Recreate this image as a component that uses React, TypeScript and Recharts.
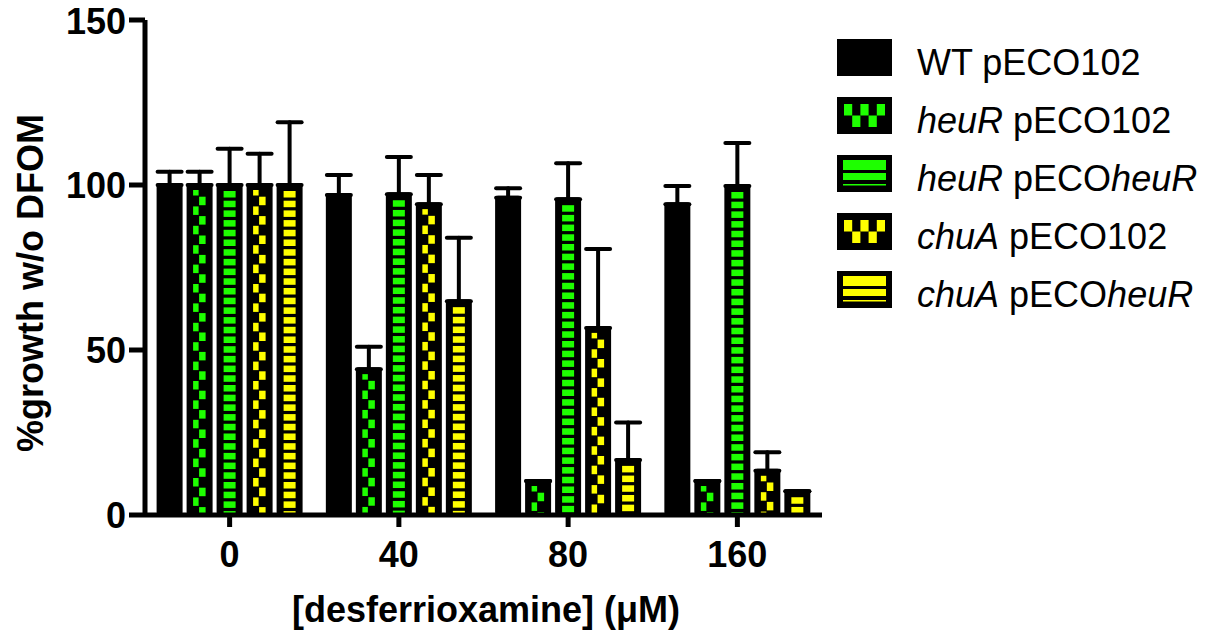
import React from 'react';
import { BarChart, Bar, XAxis, YAxis, ErrorBar, Legend } from 'recharts';

const doses = ['0', '40', '80', '160'];
const wtPECO102 = [100, 97, 96.1, 94.2];
const wtPECO102Err = [4, 6, 2.9, 5.5];
const heuRPECO102 = [100, 44.2, 10.3, 10.3];
const heuRPECO102Err = [4, 6.8, 0, 0];
const heuRPECOheuR = [100, 97.2, 95.7, 99.7];
const heuRPECOheuRErr = [11, 11.3, 10.9, 13];
const chuAPECO102 = [100, 94.2, 56.7, 13.4];
const chuAPECO102Err = [9.5, 8.8, 23.9, 5.6];
const chuAPECOheuR = [100, 64.8, 16.7, 7.2];
const chuAPECOheuRErr = [19, 19.2, 11.3, 0];
const yTicks = [0, 50, 100, 150];

const FONT = "'Liberation Sans', Arial, Helvetica, sans-serif";
const GREEN = '#1EFF00';
const YELLOW = '#FFFF00';

type Part = { t: string; i?: boolean };

const series = [
  { key: 'wt', name: 'WT pECO102', kind: 'solid', color: '#000', label: [{ t: 'WT pECO102' }] as Part[] },
  { key: 'heuR102', name: 'heuR pECO102', kind: 'zigzag', color: GREEN, label: [{ t: 'heuR', i: true }, { t: ' pECO102' }] as Part[] },
  { key: 'heuRheuR', name: 'heuR pECOheuR', kind: 'stripes', color: GREEN, label: [{ t: 'heuR', i: true }, { t: ' pECO' }, { t: 'heuR', i: true }] as Part[] },
  { key: 'chuA102', name: 'chuA pECO102', kind: 'zigzag', color: YELLOW, label: [{ t: 'chuA', i: true }, { t: ' pECO102' }] as Part[] },
  { key: 'chuAheuR', name: 'chuA pECOheuR', kind: 'stripes', color: YELLOW, label: [{ t: 'chuA', i: true }, { t: ' pECO' }, { t: 'heuR', i: true }] as Part[] },
];

const rows = doses.map((dose, i) => ({
  dose,
  wt: wtPECO102[i],
  wtErr: [0, wtPECO102Err[i]],
  heuR102: heuRPECO102[i],
  heuR102Err: [0, heuRPECO102Err[i]],
  heuRheuR: heuRPECOheuR[i],
  heuRheuRErr: [0, heuRPECOheuRErr[i]],
  chuA102: chuAPECO102[i],
  chuA102Err: [0, chuAPECO102Err[i]],
  chuAheuR: chuAPECOheuR[i],
  chuAheuRErr: [0, chuAPECOheuRErr[i]],
}));

function PatternBar(props: any) {
  const { x, y, width, height, kind, color } = props;
  if (!height || height <= 0) return null;
  const top = y - 2;
  const bottom = y + height;
  const parts: React.ReactNode[] = [
    <rect key="outer" x={x} y={top} width={width} height={bottom - top} rx={3} fill="#000" />,
  ];
  const innerTop = top + 7;
  if (kind === 'stripes') {
    for (let k = 0; k < 200; k++) {
      const sy = innerTop + 1 + k * 9.7;
      if (sy >= bottom) break;
      parts.push(
        <rect key={k} x={x + 7} y={sy} width={width - 14} height={Math.min(6.5, bottom - sy)} fill={color} />
      );
    }
  } else if (kind === 'zigzag') {
    for (let k = 0; k < 200; k++) {
      const sy0 = innerTop - 3 + k * 9.7;
      if (sy0 >= bottom) break;
      const sy = Math.max(sy0, innerTop);
      const ey = Math.min(sy0 + 8.5, bottom);
      if (ey <= sy) continue;
      const left = k % 2 === 0;
      parts.push(
        <rect key={k} x={left ? x + 6.5 : x + 12.5} y={sy} width={left ? 5.5 : 6.5} height={ey - sy} fill={color} />
      );
    }
  }
  return <g>{parts}</g>;
}

function Swatch({ kind, color, y }: { kind: string; color: string; y: number }) {
  const x = 1;
  const items: React.ReactNode[] = [<rect key="b" x={x} y={y} width={55} height={37} fill="#000" />];
  if (kind === 'zigzag') {
    for (let r = 0; r < 2; r++) {
      for (let c = 0; c < 5; c++) {
        if ((r + c) % 2 === 0) {
          items.push(<rect key={`${r}-${c}`} x={x + 7 + c * 8.2} y={y + 7 + r * 11.5} width={8.2} height={11.5} fill={color} />);
        }
      }
    }
  } else if (kind === 'stripes') {
    items.push(<rect key="s1" x={x + 6} y={y + 5} width={43} height={10} fill={color} />);
    items.push(<rect key="s2" x={x + 6} y={y + 18} width={43} height={7} fill={color} />);
    items.push(<rect key="s3" x={x + 6} y={y + 29} width={43} height={1.5} fill={color} />);
  }
  return <g>{items}</g>;
}

function LegendBlock() {
  return (
    <svg width={389} height={340} style={{ display: 'block' }}>
      {series.map((s, i) => {
        const top = 39 + i * 58;
        return (
          <g key={s.key}>
            <Swatch kind={s.kind} color={s.color} y={top} />
            <text x={81} y={top + 36} fontSize={36} fontFamily={FONT} fill="#000" style={{ whiteSpace: 'pre' }}>
              {s.label.map((p, j) => (
                <tspan key={j} fontStyle={p.i ? 'italic' : 'normal'}>
                  {p.t}
                </tspan>
              ))}
            </text>
          </g>
        );
      })}
    </svg>
  );
}

const tickStyle = { fontSize: 36, fontWeight: 'bold' as const, fill: '#000', fontFamily: FONT };
const axisStroke = { stroke: '#000', strokeWidth: 5 };

export default function App() {
  return (
    <div style={{ position: 'absolute', left: 0, top: 0, width: 1225, height: 642, background: '#fff' }}>
      <BarChart
        width={1225}
        height={642}
        data={rows}
        margin={{ top: 20, right: 403, bottom: 0, left: 0 }}
        barCategoryGap={11.6}
        barGap={4}
      >
        <XAxis
          dataKey="dose"
          height={127}
          tickSize={12}
          tickMargin={14}
          tick={tickStyle}
          axisLine={axisStroke}
          tickLine={axisStroke}
          label={{
            content: () => (
              <text x={486} y={622} textAnchor="middle" fontSize={36} fontWeight="bold" fontFamily={FONT} fill="#000">
                [desferrioxamine] (μM)
              </text>
            ),
          }}
        />
        <YAxis
          width={145}
          domain={[0, 150]}
          ticks={yTicks}
          tickSize={16}
          tickMargin={3}
          tick={tickStyle}
          axisLine={axisStroke}
          tickLine={axisStroke}
          label={{
            content: () => (
              <text
                x={30}
                y={283}
                transform="rotate(-90 30 283)"
                textAnchor="middle"
                dominantBaseline="central"
                fontSize={36}
                fontWeight="bold"
                fontFamily={FONT}
                fill="#000"
              >
                %growth w/o DFOM
              </text>
            ),
          }}
        />
        <Legend
          layout="horizontal"
          verticalAlign="middle"
          align="center"
          wrapperStyle={{ left: 836, top: 0, width: 389 }}
          content={() => <LegendBlock />}
        />
        {series.map((s) => (
          <Bar
            key={s.key}
            dataKey={s.key}
            name={s.name}
            fill={s.color}
            isAnimationActive={false}
            shape={(p: any) => <PatternBar {...p} kind={s.kind} color={s.color} />}
          >
            <ErrorBar
              dataKey={`${s.key}Err`}
              width={12}
              stroke="#000"
              strokeWidth={4}
              strokeLinecap="round"
              direction="y"
            />
          </Bar>
        ))}
      </BarChart>
    </div>
  );
}
